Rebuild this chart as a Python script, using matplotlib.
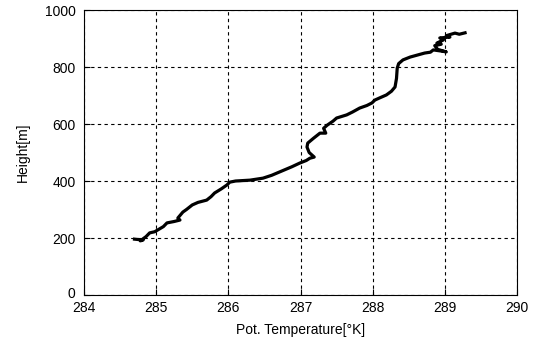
import matplotlib.pyplot as plt
from matplotlib.transforms import offset_copy

# potential temperature profile
temp = [284.70, 284.82, 284.78, 284.86, 284.91, 284.98, 285.02, 285.10, 285.15,
        285.25, 285.33, 285.30, 285.37, 285.42, 285.50, 285.58, 285.70, 285.76,
        285.81, 285.90, 285.98, 286.02, 286.10, 286.30, 286.48, 286.60, 286.74,
        286.88, 286.99, 287.08, 287.13, 287.19, 287.12, 287.09, 287.10, 287.18,
        287.27, 287.35, 287.32, 287.37, 287.45, 287.50, 287.64, 287.72, 287.82,
        287.92, 287.99, 288.03, 288.10, 288.19, 288.26, 288.31, 288.33, 288.34,
        288.36, 288.42, 288.52, 288.62, 288.72, 288.80, 288.84, 288.95, 289.02,
        288.90, 288.86, 288.95, 288.89, 288.98, 288.93, 289.07, 289.02, 289.14,
        289.20, 289.28]
height = [196, 193, 190, 205, 218, 222, 228, 240, 253, 258, 263, 270, 291, 300,
          316, 325, 333, 345, 358, 372, 386, 396, 400, 403, 410, 420, 435, 450,
          463, 472, 480, 484, 500, 519, 533, 550, 568, 568, 585, 596, 610, 621,
          632, 642, 656, 665, 674, 684, 692, 702, 715, 730, 760, 796, 812, 825,
          835, 842, 849, 852, 860, 856, 853, 862, 875, 880, 884, 895, 902, 905,
          910, 919, 915, 920]

plt.rcParams['font.family'] = ['Liberation Sans', 'DejaVu Sans']

fig = plt.figure(figsize=(5.37, 3.49), dpi=100)
ax = fig.add_axes([0.1564, 0.1547, 0.8064, 0.8166])
ax.plot(temp, height, color='black', lw=2.3, solid_joinstyle='round')
ax.set_xlim(284, 290)
ax.set_ylim(0, 1000)
ax.set_xticks(range(284, 291))
ax.set_yticks(range(0, 1001, 200))
ax.grid(True, color='black', linestyle=(0, (3, 3)), linewidth=0.8)
ax.tick_params(direction='in', length=4, labelsize=10, colors='black')
ax.tick_params(axis='x', pad=4)
ax.tick_params(axis='y', pad=6)
# MATLAB lifts the zero label a little above the axis corner
zero = ax.get_yticklabels()[0]
zero.set_transform(offset_copy(zero.get_transform(), fig=fig, y=2, units='points'))
for s in ax.spines.values():
    s.set_linewidth(0.8)
ax.set_xlabel('Pot. Temperature[°K]', fontsize=10, labelpad=6)
ax.set_ylabel('Height[m]', fontsize=10, labelpad=11)
fig.savefig('out.png', dpi=100)
